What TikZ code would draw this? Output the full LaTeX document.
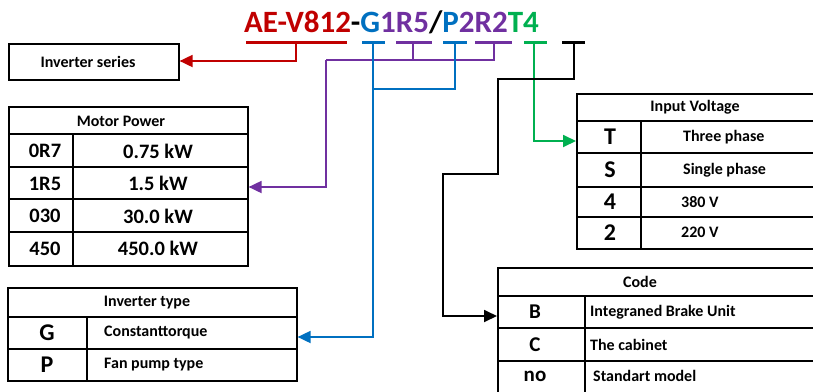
\documentclass[tikz,border=0pt]{standalone}
\usepackage{fontspec}
\setmainfont{Carlito}
\usetikzlibrary{arrows.meta}
\definecolor{cred}{HTML}{C00000}
\definecolor{cblue}{HTML}{0070C0}
\definecolor{cpurple}{HTML}{7030A0}
\definecolor{cgreen}{HTML}{00B050}
\tikzset{
  fs/.style={font=\fontsize{#1}{#1}\selectfont\bfseries, inner sep=0pt},
  tbl/.style={draw=black, line width=1.6pt},
  tick/.style={line width=3pt},
  conn/.style={line width=1.8pt, -{Triangle[length=13pt,width=12pt]}},
  seg/.style={line width=1.8pt},
  boxn/.style={draw=black, line width=1.6pt, inner sep=0pt, anchor=north west},
}
\begin{document}
\begin{tikzpicture}[x=1pt,y=-1pt]
\useasboundingbox (0,0) rectangle (813,391);
\begin{scope}
\clip (0,0) rectangle (813,391);

% title
\node[fs=31, anchor=base west] (title) at (244,32) {\textcolor{cred}{AE-V812}-\textcolor{cblue}{G}\textcolor{cpurple}{1R5}/\textcolor{cblue}{P}\textcolor{cpurple}{2R2}\textcolor{cgreen}{T4}};

% ticks
\draw[tick,cred] (246,42) -- (347,42);
\draw[tick,cblue] (362,42) -- (385,42);
\draw[tick,cpurple] (396,42) -- (432,42);
\draw[tick,cblue] (443,42) -- (467,42);
\draw[tick,cpurple] (475,42) -- (512,42);
\draw[tick,cgreen] (524,42) -- (547,42);
\draw[tick,black] (562,42) -- (585,42);
\coordinate (tR) at (296,42);
\coordinate (tB1) at (373,42);
\coordinate (tP1) at (413,42);
\coordinate (tB2) at (455,42);
\coordinate (tP2) at (494,42);
\coordinate (tG) at (534,42);
\coordinate (tK) at (574,42);

% Inverter series
\node[boxn, minimum width=170pt, minimum height=36pt] (ser) at (8,43) {};
\node[fs=16] (serT) at (88,62) {Inverter series};

% Motor power table
\node[boxn, minimum width=239pt, minimum height=159pt] (mp) at (8,106) {};
\draw[tbl] (8,134) -- (247,134);
\draw[tbl] (8,167) -- (247,167);
\draw[tbl] (8,199) -- (247,199);
\draw[tbl] (8,232) -- (247,232);
\draw[tbl] (73,134) -- (73,265);
\node[fs=16] (mpH) at (121,121) {Motor Power};
\node[fs=20.5] (mp1a) at (45,151) {0R7};
\node[fs=20.5] (mp1b) at (158,151) {0.75 kW};
\node[fs=20.5] (mp2a) at (45,183.5) {1R5};
\node[fs=20.5] (mp2b) at (158,183.5) {1.5 kW};
\node[fs=20.5] (mp3a) at (45,216) {030};
\node[fs=20.5] (mp3b) at (158,216) {30.0 kW};
\node[fs=20.5] (mp4a) at (45,248.5) {450};
\node[fs=20.5] (mp4b) at (158,248.5) {450.0 kW};

% Inverter type table
\node[boxn, minimum width=289pt, minimum height=93pt] (it) at (7,287) {};
\draw[tbl] (7,317) -- (296,317);
\draw[tbl] (7,349) -- (296,349);
\draw[tbl] (87,317) -- (87,380);
\node[fs=16] (itH) at (147,303) {Inverter type};
\node[fs=24] (it1a) at (47,333) {G};
\node[fs=16, anchor=west] (it1b) at (104,333) {Constanttorque};
\node[fs=24] (it2a) at (47,365) {P};
\node[fs=16, anchor=west] (it2b) at (104,365) {Fan pump type};

% Input voltage table
\node[boxn, minimum width=250pt, minimum height=155pt] (iv) at (576,93) {};
\draw[tbl] (576,121) -- (826,121);
\draw[tbl] (576,153) -- (826,153);
\draw[tbl] (576,187) -- (826,187);
\draw[tbl] (576,217) -- (826,217);
\draw[tbl] (641,121) -- (641,248);
\node[fs=16] (ivH) at (695,107) {Input Voltage};
\node[fs=24] (iv1a) at (610,137) {T};
\node[fs=16, anchor=west] (iv1b) at (683,137) {Three phase};
\node[fs=24] (iv2a) at (610,170) {S};
\node[fs=16, anchor=west] (iv2b) at (683,170) {Single phase};
\node[fs=24] (iv3a) at (610,202) {4};
\node[fs=16, anchor=west] (iv3b) at (681,202) {380 V};
\node[fs=24] (iv4a) at (610,232.5) {2};
\node[fs=16, anchor=west] (iv4b) at (681,232.5) {220 V};

% Code table
\node[boxn, minimum width=330pt, minimum height=140pt] (cd) at (497,267) {};
\draw[tbl] (497,296) -- (827,296);
\draw[tbl] (497,328) -- (827,328);
\draw[tbl] (497,361) -- (827,361);
\draw[tbl] (585,296) -- (585,400);
\node[fs=16] (cdH) at (640,282) {Code};
\node[fs=21] (cd1a) at (535,312) {B};
\node[fs=16, anchor=west] (cd1b) at (590,312) {Integraned Brake Unit};
\node[fs=21] (cd2a) at (535,344.5) {C};
\node[fs=16, anchor=west] (cd2b) at (590,344.5) {The cabinet};
\node[fs=21] (cd3a) at (535,376) {no};
\node[fs=16, anchor=west] (cd3b) at (593,376) {Standart model};

% connectors
\draw[conn,cred] (tR) -- (296,61) -- (ser.east |- 0,61);
\draw[seg,cpurple] (tP1) -- (413,60);
\draw[seg,cpurple] (tP2) -- (494,60) -- (326,60);
\draw[conn,cpurple] (326,60) -- (326,187) -- (mp.east |- 0,187);
\draw[seg,cblue] (tB2) -- (455,89) -- (373,89);
\draw[conn,cblue] (tB1) -- (373,337) -- (it.east |- 0,337);
\draw[conn,cgreen] (tG) -- (534,141) -- (iv.west |- 0,141);
\draw[conn,black] (tK) -- (574,79) -- (498,79) -- (498,174) -- (443,174) -- (443,316) -- (cd.west |- 0,316);
\end{scope}
\end{tikzpicture}
\end{document}
